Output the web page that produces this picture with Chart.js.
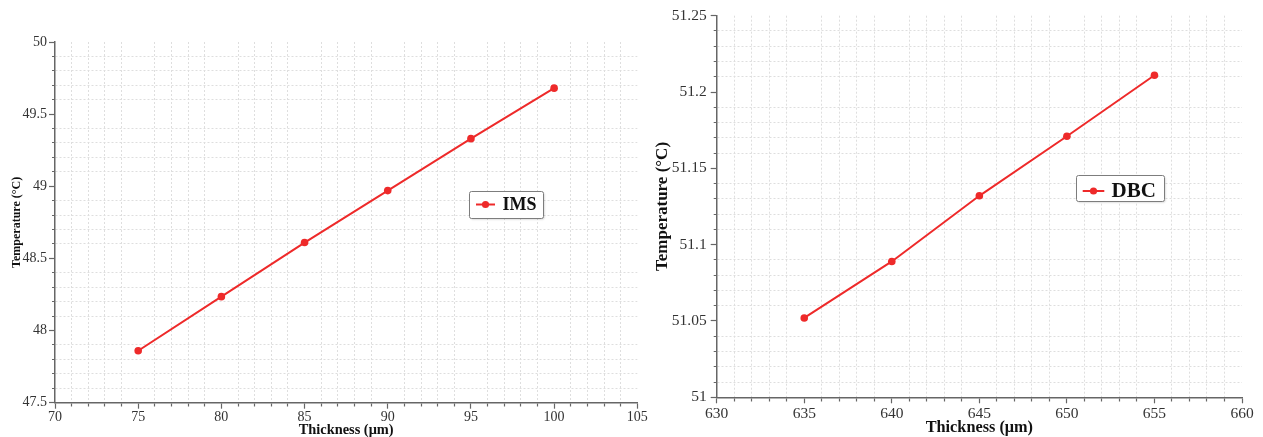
<!DOCTYPE html>
<html>
<head>
<meta charset="utf-8">
<title>Temperature vs. Thickness</title>
<script src="https://cdn.jsdelivr.net/npm/chart.js@4/dist/chart.umd.min.js"></script>
<style>
  html, body { margin: 0; padding: 0; background: #fff; }
  #wrap { position: relative; width: 1263px; height: 437px; overflow: hidden; }
  canvas { position: absolute; top: 0; }
  #imsChart { left: 0; }
  #dbcChart { left: 640px; }
</style>
</head>
<body>
<div id="wrap">
  <canvas id="imsChart" width="670" height="437"></canvas>
  <canvas id="dbcChart" width="623" height="437"></canvas>
</div>
<script>
// IMS substrate: dielectric thickness (µm) vs. temperature (°C)
const imsThickness   = [75, 80, 85, 90, 95, 100];
const imsTemperature = [47.86, 48.235, 48.61, 48.97, 49.33, 49.68];
const imsXTicks = [70, 75, 80, 85, 90, 95, 100, 105];
const imsYTicks = [47.5, 48, 48.5, 49, 49.5, 50];

// DBC substrate: ceramic thickness (µm) vs. temperature (°C)
const dbcThickness   = [635, 640, 645, 650, 655];
const dbcTemperature = [51.052, 51.089, 51.132, 51.171, 51.211];
const dbcXTicks = [630, 635, 640, 645, 650, 655, 660];
const dbcYTicks = [51, 51.05, 51.1, 51.15, 51.2, 51.25];

const SERIF = "'Liberation Serif', 'Times New Roman', Times, serif";
const RED = '#ee2a2a';
const AXIS = '#666';
const MINOR_PER_MAJOR = 5;

// Major ticks carry labels; four unlabeled minor ticks sit between each pair.
function withMinorTicks(majors) {
  const out = [];
  for (let i = 0; i < majors.length - 1; i++) {
    const a = majors[i], b = majors[i + 1];
    for (let k = 0; k < MINOR_PER_MAJOR; k++) {
      out.push({ value: +(a + (b - a) * k / MINOR_PER_MAJOR).toFixed(6), main: k === 0 });
    }
  }
  out.push({ value: majors[majors.length - 1], main: true });
  return out;
}

function axis(o) {
  const horizontal = o.horizontal;
  return {
    type: 'linear',
    min: o.ticks[0],
    max: o.ticks[o.ticks.length - 1],
    afterBuildTicks: s => { s.ticks = withMinorTicks(o.ticks); },
    afterFit: s => {
      if (horizontal) s.height = o.size; else s.width = o.size;
      s.paddingLeft = s.paddingRight = s.paddingTop = s.paddingBottom = 0;
    },
    border: { display: true, color: AXIS, width: 1.5, dash: [2, 2] },
    grid: {
      color: c => (c.tick && !c.tick.main) ? '#dedede' : 'rgba(0,0,0,0)',
      lineWidth: 1,
      tickLength: 6,
      tickColor: AXIS,
      tickWidth: 1.2,
      tickBorderDash: c => (c.tick && c.tick.main) ? [] : (horizontal ? [3, 100] : [0, 3, 3, 100])
    },
    ticks: {
      autoSkip: false,
      maxRotation: 0,
      padding: o.tickPad,
      color: '#333',
      font: { family: SERIF, size: o.tickFont },
      callback: (v, i, arr) => (arr[i] && arr[i].main) ? String(v) : ''
    },
    title: {
      display: true,
      text: o.title,
      color: '#111',
      font: { family: SERIF, size: o.titleFont, weight: 'bold', lineHeight: 1 },
      padding: { top: o.titlePad, bottom: o.titlePad }
    }
  };
}

// Boxed legend placed inside the plot area.
const insetLegend = {
  id: 'insetLegend',
  afterDraw(chart, args, o) {
    const { ctx, chartArea: a } = chart;
    const ds = chart.data.datasets[0];
    const x = Math.round(a.left + a.width * o.x);
    const y = Math.round(a.top + a.height * o.y);
    ctx.save();
    ctx.shadowColor = 'rgba(0,0,0,0.18)';
    ctx.shadowBlur = 2;
    ctx.shadowOffsetX = 1;
    ctx.shadowOffsetY = 1;
    ctx.fillStyle = '#fff';
    ctx.beginPath();
    ctx.roundRect(x + 0.5, y + 0.5, o.w, o.h, 2);
    ctx.fill();
    ctx.shadowColor = 'transparent';
    ctx.strokeStyle = '#7d7d7d';
    ctx.lineWidth = 1;
    ctx.stroke();
    const cy = y + o.h / 2 + o.dy;
    ctx.strokeStyle = ds.borderColor;
    ctx.lineWidth = 2;
    ctx.beginPath();
    ctx.moveTo(x + o.lineFrom, cy);
    ctx.lineTo(x + o.lineTo, cy);
    ctx.stroke();
    ctx.fillStyle = ds.pointBackgroundColor;
    ctx.beginPath();
    ctx.arc(x + (o.lineFrom + o.lineTo) / 2, cy, 3.6, 0, Math.PI * 2);
    ctx.fill();
    ctx.fillStyle = '#111';
    ctx.font = 'bold ' + o.fontSize + 'px ' + SERIF;
    ctx.textBaseline = 'middle';
    ctx.textAlign = 'left';
    ctx.fillText(ds.label, x + o.textX, cy + 0.5);
    ctx.restore();
  }
};

function makeChart(id, label, xs, ys, g) {
  return new Chart(document.getElementById(id), {
    type: 'line',
    data: {
      datasets: [{
        label: label,
        data: xs.map((x, i) => ({ x: x, y: ys[i] })),
        borderColor: RED,
        backgroundColor: RED,
        pointBackgroundColor: RED,
        pointBorderColor: RED,
        pointBorderWidth: 0,
        pointRadius: 3.8,
        borderWidth: 2,
        tension: 0,
        fill: false
      }]
    },
    plugins: [insetLegend],
    options: {
      responsive: false,
      animation: false,
      events: [],
      layout: { padding: g.padding },
      plugins: {
        legend: { display: false },
        tooltip: { enabled: false },
        insetLegend: g.legend
      },
      scales: {
        x: axis(g.x),
        y: axis(g.y)
      }
    }
  });
}

makeChart('imsChart', 'IMS', imsThickness, imsTemperature, {
  padding: { top: 42, right: 32.7, bottom: 0, left: 0 },
  x: { horizontal: true, ticks: imsXTicks, size: 34.3, tickFont: 14, tickPad: 0,
       title: 'Thickness (\u03bcm)', titleFont: 14.4, titlePad: 0 },
  y: { horizontal: false, ticks: imsYTicks, size: 55, tickFont: 14, tickPad: 2,
       title: 'Temperature (\u00b0C)', titleFont: 12, titlePad: 10.7 },
  legend: { x: 0.711, y: 0.413, w: 74, h: 27, dy: 0, lineFrom: 7, lineTo: 26, textX: 33.5, fontSize: 18 }
});

makeChart('dbcChart', 'DBC', dbcThickness, dbcTemperature, {
  padding: { top: 15.7, right: 21, bottom: 0, left: 0 },
  x: { horizontal: true, ticks: dbcXTicks, size: 39.7, tickFont: 15.5, tickPad: 1,
       title: 'Thickness (\u03bcm)', titleFont: 16.3, titlePad: 1 },
  y: { horizontal: false, ticks: dbcYTicks, size: 76.7, tickFont: 15.5, tickPad: 4,
       title: 'Temperature (\u00b0C)', titleFont: 17, titlePad: 14 },
  legend: { x: 0.684, y: 0.4175, w: 88, h: 26, dy: 3, lineFrom: 6.7, lineTo: 28.3, textX: 35.5, fontSize: 21 }
});
</script>
</body>
</html>
